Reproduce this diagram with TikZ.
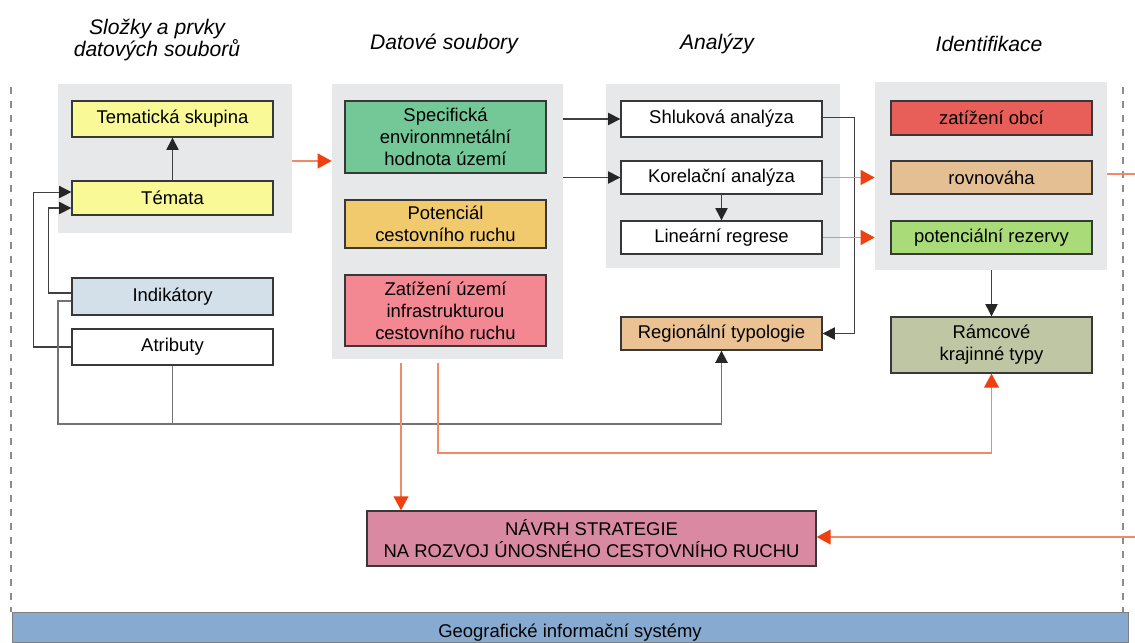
\documentclass[tikz,border=0pt]{standalone}
\usepackage{fontspec}
\setmainfont{Liberation Sans}
\usetikzlibrary{arrows.meta}
\usepackage{xcolor}
\definecolor{panelgray}{HTML}{E7E8EA}
\definecolor{yel}{HTML}{FAF997}
\definecolor{indblue}{HTML}{D3E0EA}
\definecolor{specgreen}{HTML}{74C898}
\definecolor{potorange}{HTML}{F2CA6E}
\definecolor{zatpink}{HTML}{F38892}
\definecolor{regtan}{HTML}{EBC293}
\definecolor{obcred}{HTML}{E85E58}
\definecolor{rovtan}{HTML}{E3BF93}
\definecolor{rezgreen}{HTML}{A9DC79}
\definecolor{ramolive}{HTML}{BFC6A3}
\definecolor{navpink}{HTML}{DA89A2}
\definecolor{gisblue}{HTML}{87ABD0}
\definecolor{oline}{HTML}{F28A66}
\definecolor{otip}{HTML}{EE4010}

\begin{document}
\begin{tikzpicture}[x=0.02cm, y=-0.02cm,
        box/.style={draw=black!78, line width=0.75pt, minimum width=4.02cm, align=center, inner sep=1pt, font=\fontsize{10.5}{12.5}\selectfont},
        panel/.style={fill=panelgray, inner sep=0pt},
        title/.style={align=center, font=\fontsize{12}{13}\selectfont\itshape},
        guide/.style={draw=black!45, line width=0.6pt, dash pattern=on 4pt off 4pt},
        conn/.style={draw=black!75, line width=0.6pt, -{Triangle[length=7pt, width=7pt, color=black!85]}},
        bus/.style={draw=black!55, line width=1pt},
        oline/.style={draw=oline, line width=0.8pt},
        oarrow/.style={oline, -{Triangle[length=8pt, width=8.5pt, color=otip]}}]
                \useasboundingbox (0,0) rectangle (1135,642);

                % 見出し
                \node[title] (h1) at (157,40) {Složky a prvky\\datových souborů};
                \node[title] (h2) at (444,44) {Datové soubory};
                \node[title] (h3) at (717,44) {Analýzy};
                \node[title] (h4) at (989,44) {Identifikace};

                % 破線
                \draw[guide] (11,87) -- (11,612);
                \draw[guide] (1123,87) -- (1123,612);

                % パネル
                \node[panel, minimum width=4.68cm, minimum height=2.98cm] (p1) at (175,158.5) {};
                \node[panel, minimum width=4.62cm, minimum height=5.5cm] (p2) at (447.5,221.5) {};
                \node[panel, minimum width=4.68cm, minimum height=3.68cm] (p3) at (723,176) {};
                \node[panel, minimum width=4.64cm, minimum height=3.76cm] (p4) at (991,176) {};

                % 左の列
                \node[box, fill=yel, minimum height=0.72cm] (tema) at (172.5,119) {Tematická skupina};
                \node[box, fill=yel, minimum height=0.68cm] (temata) at (172.5,198) {Témata};
                \node[box, fill=indblue, minimum height=0.74cm] (indik) at (172.5,296.5) {Indikátory};
                \node[box, fill=white, minimum height=0.72cm] (atrib) at (172.5,347) {Atributy};

                % データ
                \node[box, fill=specgreen, minimum height=1.44cm] (spec) at (445.5,137) {Specifická\\environmnetální\\hodnota území};
                \node[box, fill=potorange, minimum height=0.96cm] (poten) at (445.5,224) {Potenciál\\cestovního ruchu};
                \node[box, fill=zatpink, minimum height=1.42cm] (zatiz) at (445.5,310.5) {Zatížení území\\infrastrukturou\\cestovního ruchu};

                % 分析
                \node[box, fill=white, minimum height=0.72cm] (shluk) at (721.5,119) {Shluková analýza};
                \node[box, fill=white, minimum height=0.66cm] (korel) at (721.5,177.5) {Korelační analýza};
                \node[box, fill=white, minimum height=0.66cm] (linear) at (721.5,237.5) {Lineární regrese};
                \node[box, fill=regtan, minimum height=0.66cm] (region) at (721.5,333.5) {Regionální typologie};

                % 識別
                \node[box, fill=obcred, minimum height=0.68cm] (zatob) at (991.5,118) {zatížení obcí};
                \node[box, fill=rovtan, minimum height=0.66cm] (rovno) at (991.5,177.5) {rovnováha};
                \node[box, fill=rezgreen, minimum height=0.66cm] (rezerv) at (991.5,237.5) {potenciální rezervy};
                \node[box, fill=ramolive, minimum height=1.12cm] (ramc) at (991.5,345) {Rámcové\\krajinné typy};

                % 提案
                \node[box, fill=navpink, minimum width=8.98cm, minimum height=1.1cm] (navrh) at (591.5,538.5) {NÁVRH STRATEGIE\\NA ROZVOJ ÚNOSNÉHO CESTOVNÍHO RUCHU};

                % GIS
                \node[draw=black!50, fill=gisblue, minimum width=22.32cm, minimum height=0.6cm, inner sep=0pt, text height=12pt, text depth=0pt, font=\fontsize{10.5}{12.5}\selectfont] (gis) at (570,627) {Geografické informační systémy};

                % 左の矢印
                \draw[conn] (temata.north) -- (tema.south);
                \draw[conn] ([yshift=2pt]indik.west) -- ++(-23,0) |- ([yshift=-5.7pt]temata.west);
                \draw[conn] (atrib.west) -- ++(-38,0) |- ([yshift=3.4pt]temata.west);

                % 下の線
                \coordinate (busl) at (58,424);
                \draw[bus, -{Triangle[length=7pt, width=7pt, color=black!85]}] ([yshift=-2.5pt]indik.west) -| (busl) -| (region.south);
                \draw[bus] (atrib.south) -- (atrib.south |- busl);

                % 分析への矢印
                \draw[oarrow] ([yshift=-1.4pt]p1.east) coordinate (o1) -- (o1 -| p2.west);
                \draw[conn] (shluk.west -| p2.east) -- (shluk.west);
                \draw[conn] (korel.west -| p2.east) -- (korel.west);
                \draw[conn] (korel.south) -- (linear.north);
                \draw[conn] ([yshift=1.1pt]shluk.east) -- ++(32,0) |- (region.east);

                % 識別への矢印
                \draw[oarrow] (korel.east) -- (korel.east -| p4.west);
                \draw[oarrow] (linear.east) -- (linear.east -| p4.west);
                \draw[conn] (p4.south -| ramc.north) -- (ramc.north);

                % 提案への矢印
                \coordinate (d1) at (401,363);
                \coordinate (d2) at (438,363);
                \draw[oarrow] (d1) -- (d1 |- navrh.north);
                \draw[oarrow] (d2) -- ++(0,90) -| (ramc.south);
                \coordinate (re1) at (1135,174);
                \coordinate (re2) at (1135,537);
                \draw[oline] (p4.east |- re1) -- (re1);
                \draw[oarrow] (re2) -- (re2 -| navrh.east);

            \end{tikzpicture}
\end{document}
